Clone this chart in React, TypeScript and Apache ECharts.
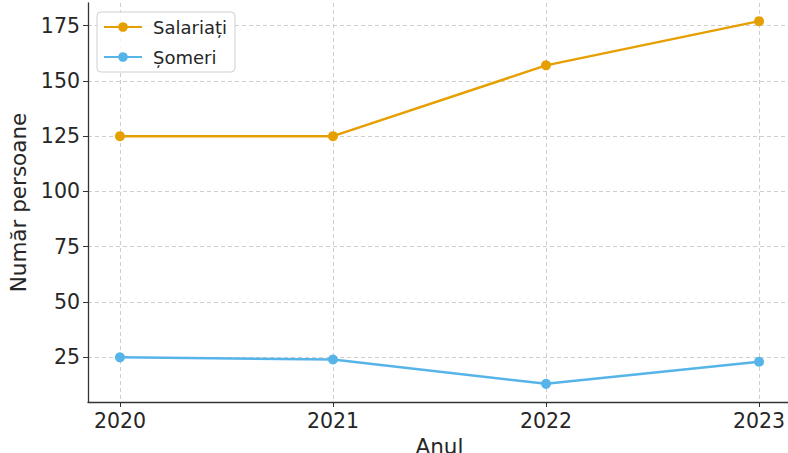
import React, { useEffect, useRef } from "react";
import * as echarts from "echarts";

const years = [2020, 2021, 2022, 2023];
const salariati = [125, 125, 157, 177];
const someri = [25, 24, 13, 23];
const yTicks = [25, 50, 75, 100, 125, 150, 175];

const FONT = "DejaVu Sans";
const TEXT = "#262626";

export default function App() {
  const ref = useRef<HTMLDivElement>(null);
  useEffect(() => {
    if (!ref.current) return;
    const chart = echarts.init(ref.current, null, { renderer: "svg" });
    const gridLine = { show: true, lineStyle: { color: "#cfcfcf", type: [4, 3] as any, width: 1 } };
    chart.setOption({
      animation: false,
      textStyle: { fontFamily: FONT, color: TEXT },
      grid: { left: 88, right: -3, top: 3, bottom: 51, containLabel: false, outerBoundsMode: "none" },
      legend: {
        left: 97,
        top: 12,
        orient: "vertical",
        itemWidth: 38,
        itemHeight: 12,
        itemGap: 12,
        padding: [6, 8, 6, 6],
        backgroundColor: "rgba(255,255,255,0.8)",
        borderColor: "#d0d0d0",
        borderWidth: 1,
        borderRadius: 4,
        textStyle: { fontFamily: FONT, fontSize: 18, color: TEXT, padding: [0, 0, 0, 6] },
        data: ["Salariați", "Șomeri"],
      },
      xAxis: {
        type: "value",
        min: 2019.85,
        max: 2023.15,
        name: "Anul",
        nameLocation: "middle",
        nameGap: 30,
        nameTextStyle: { fontFamily: FONT, fontSize: 21.5, color: TEXT },
        axisLine: { show: true, onZero: false, lineStyle: { color: "#333", width: 1.3 } },
        axisTick: { show: true, length: 5, customValues: years, lineStyle: { color: "#333" } },
        axisLabel: {
          customValues: years,
          formatter: (v: number) => String(Math.round(v)),
          fontFamily: FONT,
          fontSize: 20.5,
          color: TEXT,
          margin: 8,
        },
        splitLine: gridLine,
      },
      yAxis: {
        type: "value",
        min: 4.8,
        max: 185.2,
        name: "Număr persoane",
        nameLocation: "middle",
        nameGap: 59,
        nameTextStyle: { fontFamily: FONT, fontSize: 21.5, color: TEXT },
        axisLine: { show: true, onZero: false, lineStyle: { color: "#333", width: 1.3 } },
        axisTick: { show: true, length: 5, customValues: yTicks, lineStyle: { color: "#333" } },
        axisLabel: {
          customValues: yTicks,
          fontFamily: FONT,
          fontSize: 20.5,
          color: TEXT,
          margin: 8,
        },
        splitLine: gridLine,
      },
      series: [
        {
          name: "Salariați",
          type: "line",
          data: years.map((y, i) => [y, salariati[i]]),
          color: "#E69F00",
          lineStyle: { width: 2.5 },
          symbol: "circle",
          symbolSize: 10,
        },
        {
          name: "Șomeri",
          type: "line",
          data: years.map((y, i) => [y, someri[i]]),
          color: "#56B4E9",
          lineStyle: { width: 2.5 },
          symbol: "circle",
          symbolSize: 10,
        },
      ],
    });
    return () => chart.dispose();
  }, []);
  return <div ref={ref} style={{ width: 788, height: 453, position: "absolute", left: 0, top: 0 }} />;
}
